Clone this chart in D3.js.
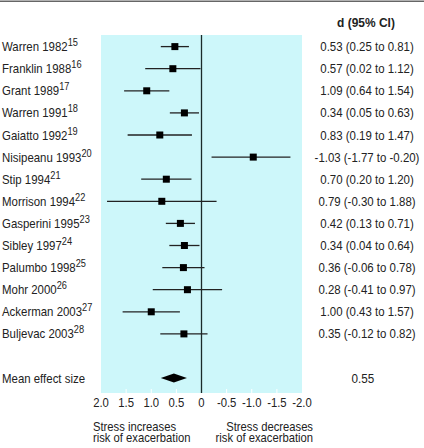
<!DOCTYPE html>
<html><head><meta charset="utf-8">
<script src="https://cdn.jsdelivr.net/npm/d3@7"></script>
<style>
body{margin:0;background:#fff;}
svg{display:block;}
text{font-family:"Liberation Sans",Arial,sans-serif;fill:#222;}
</style></head><body>
<script>
const studies = ["Warren 1982","Franklin 1988","Grant 1989","Warren 1991","Gaiatto 1992","Nisipeanu 1993","Stip 1994","Morrison 1994","Gasperini 1995","Sibley 1997","Palumbo 1998","Mohr 2000","Ackerman 2003","Buljevac 2003"];
const refs = ["15","16","17","18","19","20","21","22","23","24","25","26","27","28"];
const d = [0.53,0.57,1.09,0.34,0.83,-1.03,0.70,0.79,0.42,0.34,0.36,0.28,1.00,0.35];
const lo = [0.25,0.02,0.64,0.05,0.19,-1.77,0.20,-0.30,0.13,0.04,-0.06,-0.41,0.43,-0.12];
const hi = [0.81,1.12,1.54,0.63,1.47,-0.20,1.20,1.88,0.71,0.64,0.78,0.97,1.57,0.82];
const meanD = 0.55, meanLo = 0.29, meanHi = 0.81;
const ticks = [2.0,1.5,1.0,0.5,0,-0.5,-1.0,-1.5,-2.0];
const tickLabels = ["2.0","1.5","1.0","0.5","0","-0.5","-1.0","-1.5","-2.0"];
const leftCaption = ["Stress increases","risk of exacerbation"];
const rightCaption = ["Stress decreases","risk of exacerbation"];

const W=424,H=448;
const svg=d3.select("body").append("svg").attr("width",W).attr("height",H);
const x=d3.scaleLinear().domain([2,-2]).range([101,302]);
const rows=d3.range(16);
const y=d3.scalePoint().domain(rows).range([46.6,378.1]);
const panelTop=35,panelBot=393;
const fs=13;

function txt(px,py,str,anchor,sx,opts){
  const t=svg.append("text").attr("transform",`translate(${px},${py}) scale(${sx||0.88},1)`)
    .attr("text-anchor",anchor||"start").attr("font-size",(opts&&opts.size)||fs);
  if(opts&&opts.bold) t.attr("font-weight","bold");
  if(str!==null) t.text(str);
  return t;
}

svg.append("line").attr("x1",0).attr("x2",W).attr("y1",1.2).attr("y2",1.2).attr("stroke","#666").attr("stroke-width",1.6);
svg.append("rect").attr("x",x(2)).attr("y",panelTop).attr("width",x(-2)-x(2)).attr("height",panelBot-panelTop).attr("fill","#cdf7fa");

svg.selectAll("line.tk").data(ticks.filter(t=>Math.abs(t)!==2&&t!==0)).enter().append("line")
 .attr("x1",t=>x(t)).attr("x2",t=>x(t)).attr("y1",panelBot-4).attr("y2",panelBot).attr("stroke","#fff").attr("stroke-width",1);

svg.append("line").attr("x1",x(0)).attr("x2",x(0)).attr("y1",panelTop).attr("y2",panelBot).attr("stroke","#1a2a2a").attr("stroke-width",1.3);

txt(366,27,"d (95% CI)","middle",0.92,{bold:true});

const f=v=>v.toFixed(2);
studies.forEach((s,i)=>{
  svg.append("line").attr("x1",x(lo[i])).attr("x2",x(hi[i])).attr("y1",y(i)).attr("y2",y(i)).attr("stroke","#222").attr("stroke-width",1.3);
  svg.append("rect").attr("x",x(d[i])-3.5).attr("y",y(i)-3.5).attr("width",7).attr("height",7).attr("fill","#000");
  const t=txt(2,y(i)+4.5,null,"start",0.88);
  t.append("tspan").text(s);
  t.append("tspan").attr("dy",-5).attr("font-size",10.5).text(refs[i]);
  txt(367,y(i)+4.5,`${f(d[i])} (${f(lo[i])} to ${f(hi[i])})`,"middle",0.88);
});

const ym=y(15);
svg.append("path").attr("d",`M${x(meanLo)},${ym}L${x(meanD)},${ym-4.5}L${x(meanHi)},${ym}L${x(meanD)},${ym+4.5}Z`).attr("fill","#000");
txt(2,ym+4.5,"Mean effect size","start",0.88);
txt(363,ym+4.5,f(meanD),"middle",0.9);

ticks.forEach((t,i)=>txt(x(t),407,tickLabels[i],"middle",0.87));
const cs={size:12.5};
const lc=txt(93,430.5,null,"start",0.9,cs);
leftCaption.forEach((s,i)=>lc.append("tspan").attr("x",0).attr("dy",i?12:0).text(s));
const rc=txt(313,430.5,null,"end",0.9,cs);
rightCaption.forEach((s,i)=>rc.append("tspan").attr("x",0).attr("dy",i?12:0).text(s));
</script></body></html>
